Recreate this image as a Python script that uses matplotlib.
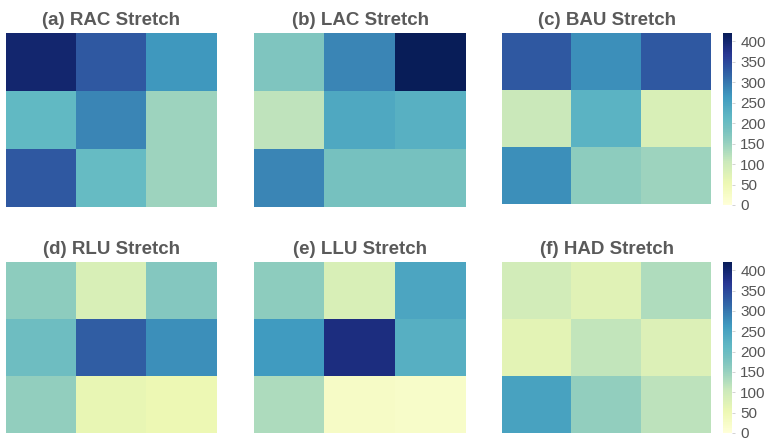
import numpy as np
import matplotlib
matplotlib.use('Agg')
import matplotlib.pyplot as plt
from matplotlib.colors import ListedColormap, rgb_to_hsv, hsv_to_rgb

# Stretch values per 3x3 grid
titles = ['(a) RAC Stretch', '(b) LAC Stretch', '(c) BAU Stretch',
          '(d) RLU Stretch', '(e) LLU Stretch', '(f) HAD Stretch']

rac = [[400, 330, 265],
       [210, 285, 145],
       [330, 205, 145]]
lac = [[175, 285, 420],
       [115, 240, 225],
       [285, 185, 185]]
bau = [[330, 275, 330],
       [105, 220, 85],
       [275, 160, 145]]
rlu = [[160, 85, 170],
       [195, 325, 275],
       [155, 60, 52]]
llu = [[160, 85, 245],
       [262, 385, 228],
       [130, 25, 22]]
had = [[95, 72, 128],
       [68, 112, 78],
       [250, 155, 118]]

grids = [rac, lac, bau, rlu, llu, had]
cbar_ticks = [0, 50, 100, 150, 200, 250, 300, 350, 400]

plt.rcParams['font.family'] = ['Liberation Sans', 'DejaVu Sans']

# the reference's YlGnBu looks muted in the middle, so tone down saturation there
pos = np.linspace(0, 1, 256)
base = plt.get_cmap('YlGnBu')(pos)[:, :3]
hsv = rgb_to_hsv(base)
hsv[:, 1] *= 1 - 0.25 * np.sin(np.pi * pos) ** 2
cmap = ListedColormap(hsv_to_rgb(hsv))

W, H = 769, 441
fig = plt.figure(figsize=(W / 100, H / 100), dpi=100)

# pixel boxes (left, top, right, bottom)
cols = [(6, 217), (254, 466), (502, 711)]
rows = [(33, 207), (262, 433)]


def box(l, t, r, b):
    return [l / W, 1 - b / H, (r - l) / W, (b - t) / H]


for i, (title, grid) in enumerate(zip(titles, grids)):
    rr, cc = divmod(i, 3)
    l, r = cols[cc]
    t, b = rows[rr]
    if cc == 2 and rr == 0:
        b = 204
    ax = fig.add_axes(box(l, t, r, b))
    im = ax.imshow(np.array(grid), cmap=cmap, vmin=0, vmax=420,
                   aspect='auto', interpolation='nearest')
    ax.set_axis_off()
    ax.set_title(title, fontsize=13.5, fontweight='bold', color='#5a5a5a', pad=6)

    if cc == 2:
        cb_t, cb_b = (33, 205) if rr == 0 else (262, 433)
        cax = fig.add_axes(box(723, cb_t, 732, cb_b))
        cb = fig.colorbar(im, cax=cax, ticks=cbar_ticks)
        cb.outline.set_visible(False)
        cax.tick_params(length=2, width=0.6, color='#cccccc',
                        labelsize=11, labelcolor='#555555', pad=4)

fig.savefig('out.png', dpi=100)
